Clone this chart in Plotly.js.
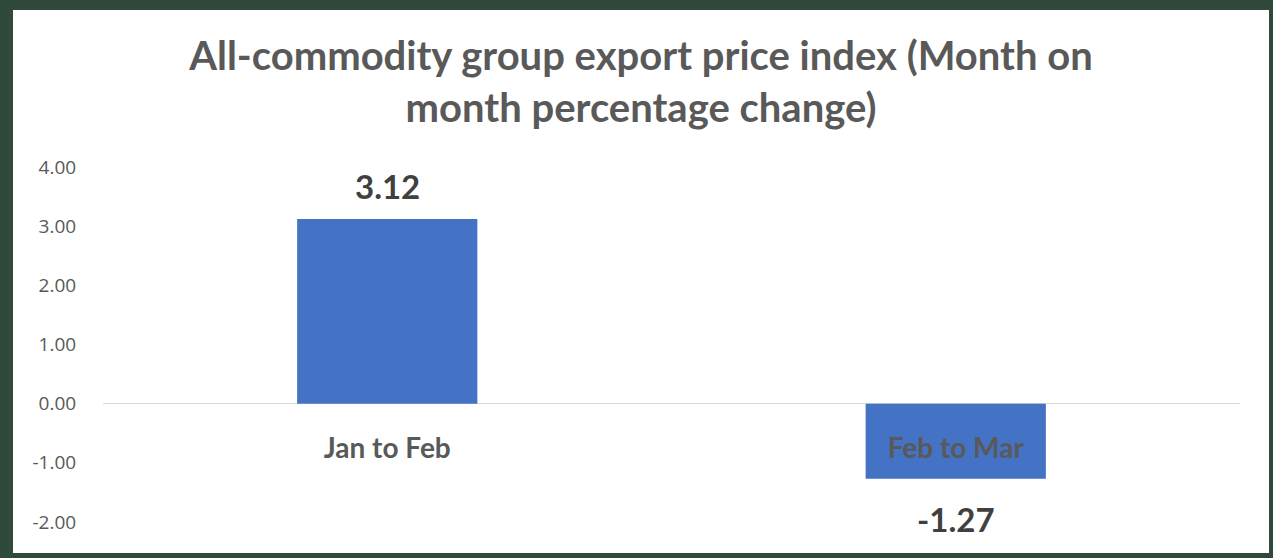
<!DOCTYPE html>
<html>
<head>
<meta charset="utf-8">
<script src="https://cdn.plot.ly/plotly-3.0.1.min.js"></script>
<style>
  html, body { margin: 0; padding: 0; background: #ffffff; }
  #frame { position: relative; width: 1273px; height: 558px; background: #2f4a3a; overflow: hidden; }
  #chart { position: absolute; left: 13px; top: 10px; width: 1256px; height: 543px; background: #ffffff; }
</style>
</head>
<body>
<div id="frame"><div id="chart"></div></div>
<script>
const categories = ["Jan to Feb", "Feb to Mar"];
const values = [3.12, -1.27];
const valueLabels = ["3.12", "-1.27"];
const yTickVals = [-2, -1, 0, 1, 2, 3, 4];
const yTickText = ["-2.00", "-1.00", "0.00", "1.00", "2.00", "3.00", "4.00"];

const trace = {
  type: "bar",
  x: categories,
  y: values,
  marker: { color: "#4472c4" },
  hoverinfo: "x+y"
};

const annotations = categories.map((c, i) => ({
  x: c,
  y: values[i],
  xref: "x",
  yref: "y",
  text: "<b>" + valueLabels[i] + "</b>",
  showarrow: false,
  yanchor: "middle",
  yshift: values[i] >= 0 ? 33 : -40,
  font: { family: "Lato, 'Open Sans', sans-serif", size: 33, color: "#404040" }
}));

const layout = {
  width: 1256,
  height: 543,
  paper_bgcolor: "#ffffff",
  plot_bgcolor: "#ffffff",
  margin: { l: 90, r: 29, t: 157, b: 31, pad: 0 },
  title: {
    text: "<b>All-commodity group export price index (Month on<br>month percentage change)</b>",
    font: { family: "Lato, 'Open Sans', sans-serif", size: 40, color: "#595959" },
    x: 0.5,
    xanchor: "center",
    y: 1 - 59.5 / 543,
    yref: "container",
    yanchor: "middle"
  },
  bargap: 0.683,
  showlegend: false,
  xaxis: {
    type: "category",
    anchor: "free",
    position: 1 / 3,
    showline: false,
    showgrid: false,
    zeroline: false,
    ticks: "outside",
    ticklen: 20,
    tickcolor: "rgba(0,0,0,0)",
    tickfont: { family: "Lato, 'Open Sans', sans-serif", size: 28, color: "#595959", weight: "bold" }
  },
  yaxis: {
    range: [-2, 4],
    tickvals: yTickVals,
    ticktext: yTickText,
    showgrid: false,
    zeroline: true,
    zerolinecolor: "#d9d9d9",
    zerolinewidth: 1.5,
    showline: false,
    ticks: "outside",
    ticklen: 22,
    tickcolor: "rgba(0,0,0,0)",
    tickfont: { family: "'Open Sans', sans-serif", size: 19, color: "#595959" }
  },
  annotations: annotations
};

Plotly.newPlot("chart", [trace], layout, { displayModeBar: false, staticPlot: true });
</script>
</body>
</html>
